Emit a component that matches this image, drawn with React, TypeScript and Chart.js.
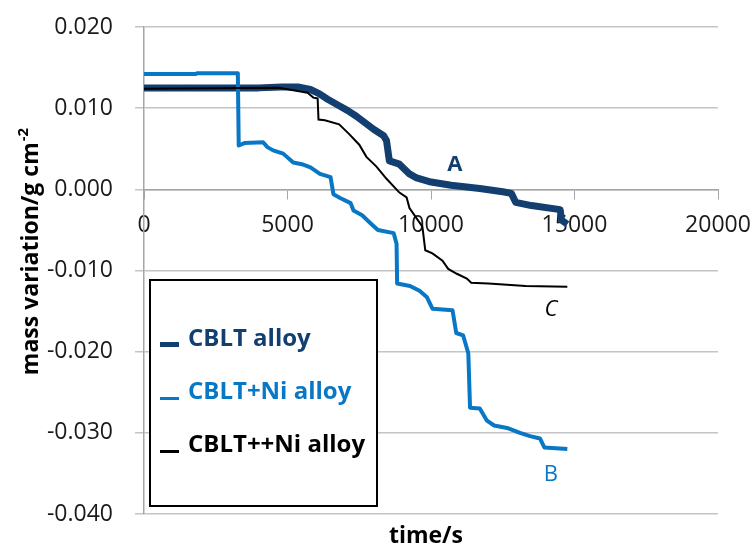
import React, { useEffect, useRef } from "react";
import { Chart, registerables } from "chart.js";

Chart.register(...registerables);

// ---- data ----
const timeA = [0, 4000, 4800, 5400, 5800, 6100, 6400, 6800, 7100, 7400, 7700, 8000, 8350, 8450, 8550, 8900, 9250, 9500, 10000, 10700, 11700, 12500, 12800, 12950, 13500, 14500, 14550, 14750];
const massA = [0.0125, 0.0125, 0.0126, 0.0126, 0.0123, 0.0118, 0.0111, 0.0103, 0.0097, 0.009, 0.0082, 0.0074, 0.0066, 0.006, 0.0035, 0.0031, 0.0019, 0.0014, 0.0009, 0.0005, 0.0001, -0.0003, -0.0005, -0.0016, -0.002, -0.0025, -0.0038, -0.0043];

const timeB = [0, 1800, 1850, 3270, 3300, 3500, 4150, 4300, 4500, 4850, 5200, 5500, 5800, 6130, 6500, 6600, 6850, 7200, 7300, 7600, 7900, 8150, 8700, 8800, 8820, 9270, 9600, 9860, 10050, 10750, 10880, 11120, 11300, 11360, 11700, 11950, 12200, 12650, 13100, 13450, 13800, 13950, 14750];
const massB = [0.0142, 0.0142, 0.0143, 0.0143, 0.0054, 0.0057, 0.0058, 0.0052, 0.0048, 0.0044, 0.0033, 0.0031, 0.0027, 0.0019, 0.0015, -0.0006, -0.0011, -0.0017, -0.0026, -0.0032, -0.0042, -0.005, -0.0054, -0.0067, -0.0116, -0.0119, -0.0125, -0.0133, -0.0147, -0.0149, -0.0177, -0.018, -0.0202, -0.0269, -0.027, -0.0285, -0.0291, -0.0294, -0.03, -0.0304, -0.0307, -0.0318, -0.032];

const timeC = [0, 4700, 5200, 5700, 5900, 6050, 6080, 6300, 6800, 7150, 7500, 7750, 8100, 8450, 8900, 9150, 9250, 9700, 9800, 10050, 10400, 10600, 10900, 11250, 11400, 12000, 13300, 14750];
const massC = [0.0124, 0.0125, 0.0122, 0.0119, 0.0113, 0.0112, 0.0086, 0.0085, 0.008, 0.0068, 0.0055, 0.004, 0.0028, 0.0013, -0.0004, -0.001, -0.0023, -0.0046, -0.0075, -0.0079, -0.0088, -0.0098, -0.0104, -0.011, -0.0115, -0.0116, -0.0119, -0.012];

const seriesLabels = ["CBLT alloy", "CBLT+Ni alloy", "CBLT++Ni alloy"];
const xTickValues = [0, 5000, 10000, 15000, 20000];
const yTickValues = [-0.04, -0.03, -0.02, -0.01, 0, 0.01, 0.02];
const xTitle = "time/s";
const yTitle = "mass variation/g cm";
const yTitleSup = "-2";
const annotationText = ["A", "B", "C"];
const annotationX = [10830, 14180, 14180];
const annotationY = [0.003, -0.0352, -0.0148];

// ---- styles ----
const COLOR_A = "#123F70";
const COLOR_B = "#0877C6";
const COLOR_C = "#000000";
const FONT = '"Open Sans", "DejaVu Sans", sans-serif';

const toPoints = (xs: number[], ys: number[]) => xs.map((x, i) => ({ x, y: ys[i] }));

const overlayPlugin = {
  id: "overlay",
  afterDraw(chart: any) {
    const ctx = chart.ctx as CanvasRenderingContext2D;
    const xs = chart.scales.x;
    const ys = chart.scales.y;
    ctx.save();

    // annotations A, B, C
    const annFonts = [`bold 22px ${FONT}`, `22px ${FONT}`, `italic 22px ${FONT}`];
    const annColors = [COLOR_A, COLOR_B, COLOR_C];
    annotationText.forEach((t, i) => {
      ctx.font = annFonts[i];
      ctx.fillStyle = annColors[i];
      ctx.textAlign = "center";
      ctx.textBaseline = "middle";
      ctx.fillText(t, xs.getPixelForValue(annotationX[i]), ys.getPixelForValue(annotationY[i]));
    });

    // x title
    ctx.font = `bold 23px ${FONT}`;
    ctx.fillStyle = "#000";
    ctx.textAlign = "center";
    ctx.textBaseline = "alphabetic";
    ctx.fillText(xTitle, 426, 543);

    // y title (rotated, with superscript)
    ctx.save();
    ctx.translate(38, 252);
    ctx.rotate(-Math.PI / 2);
    ctx.font = `bold 23px ${FONT}`;
    const w1 = ctx.measureText(yTitle).width;
    ctx.font = `bold 15px ${FONT}`;
    const w2 = ctx.measureText(yTitleSup).width;
    const start = -(w1 + w2) / 2;
    ctx.textAlign = "left";
    ctx.textBaseline = "alphabetic";
    ctx.font = `bold 23px ${FONT}`;
    ctx.fillText(yTitle, start, 0);
    ctx.font = `bold 15px ${FONT}`;
    ctx.fillText(yTitleSup, start + w1 + 1, -10);
    ctx.restore();

    // legend box
    const bx = 150, by = 280, bw = 227, bh = 226;
    ctx.fillStyle = "#fff";
    ctx.fillRect(bx, by, bw, bh);
    ctx.strokeStyle = "#000";
    ctx.lineWidth = 2;
    ctx.strokeRect(bx, by, bw, bh);
    const colors = [COLOR_A, COLOR_B, COLOR_C];
    const baselines = [346, 399, 452];
    const markerW = [5, 3, 3];
    seriesLabels.forEach((lab, i) => {
      ctx.fillStyle = colors[i];
      ctx.fillRect(160, baselines[i] - markerW[i] + 1, 19, markerW[i]);
      ctx.font = `bold 24px ${FONT}`;
      ctx.textAlign = "left";
      ctx.textBaseline = "alphabetic";
      ctx.fillText(lab, 188, baselines[i]);
    });

    ctx.restore();
  },
};

export default function App() {
  const ref = useRef<HTMLCanvasElement | null>(null);

  useEffect(() => {
    if (!ref.current) return;
    Chart.defaults.font.family = FONT;
    const chart = new Chart(ref.current, {
      type: "line",
      data: {
        datasets: [
          {
            label: seriesLabels[0],
            data: toPoints(timeA, massA),
            borderColor: COLOR_A,
            borderWidth: 7,
            pointRadius: 0,
            tension: 0,
            order: 3,
            borderJoinStyle: "round",
          },
          {
            label: seriesLabels[1],
            data: toPoints(timeB, massB),
            borderColor: COLOR_B,
            borderWidth: 4,
            pointRadius: 0,
            tension: 0,
            order: 2,
            borderJoinStyle: "round",
          },
          {
            label: seriesLabels[2],
            data: toPoints(timeC, massC),
            borderColor: COLOR_C,
            borderWidth: 2,
            pointRadius: 0,
            tension: 0,
            order: 1,
          },
        ],
      },
      options: {
        animation: false,
        responsive: false,
        devicePixelRatio: 1,
        layout: { padding: { left: 0, top: 27, right: 35, bottom: 33 } },
        plugins: { legend: { display: false }, tooltip: { enabled: false } },
        scales: {
          x: {
            type: "linear",
            position: { y: 0 } as any,
            min: 0,
            max: 20000,
            afterBuildTicks: (s: any) => {
              s.ticks = xTickValues.map((v) => ({ value: v }));
            },
            afterFit: (s: any) => {
              s.height = 0;
              s.paddingLeft = 0;
              s.paddingRight = 0;
            },
            grid: { display: true, drawOnChartArea: false, drawTicks: true, tickLength: 9, color: "#A6A6A6", lineWidth: 1 },
            border: { display: true, color: "#A6A6A6", width: 1.5 },
            ticks: {
              padding: 13,
              maxRotation: 0,
              autoSkip: false,
              color: "#1a1a1a",
              font: { size: 23, family: FONT },
              callback: (v: any) => String(v),
            },
          },
          y: {
            type: "linear",
            min: -0.04,
            max: 0.02,
            afterBuildTicks: (s: any) => {
              s.ticks = yTickValues.map((v) => ({ value: v }));
            },
            afterFit: (s: any) => {
              s.width = 144;
              s.paddingTop = 0;
              s.paddingBottom = 0;
            },
            grid: { color: "#C4C4C4", lineWidth: 1.5, tickLength: 9, drawTicks: true },
            border: { display: true, color: "#A6A6A6", width: 1.5 },
            ticks: {
              padding: 22,
              color: "#1a1a1a",
              font: { size: 23, family: FONT },
              callback: (v: any) => (Math.abs(Number(v)) < 1e-9 ? "0.000" : Number(v).toFixed(3)),
            },
          },
        },
      },
      plugins: [overlayPlugin],
    });
    return () => chart.destroy();
  }, []);

  return (
    <div style={{ position: "fixed", left: 0, top: 0, width: 753, height: 547, background: "#fff" }}>
      <canvas ref={ref} width={753} height={547} />
    </div>
  );
}
